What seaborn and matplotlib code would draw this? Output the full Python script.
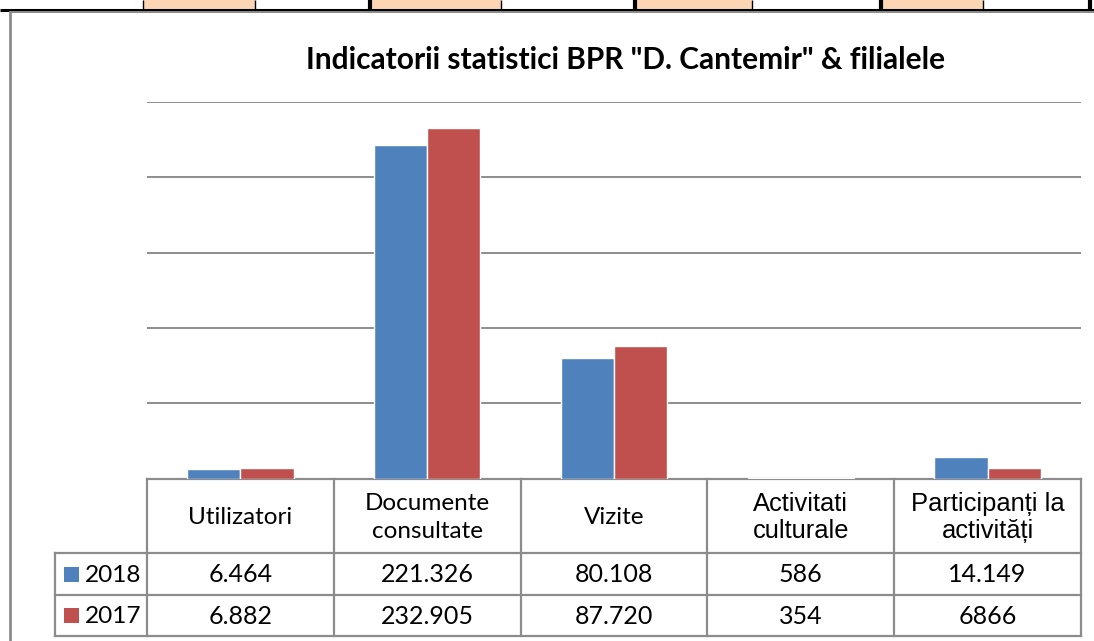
import seaborn as sns
import matplotlib.pyplot as plt
import pandas as pd
from matplotlib.patches import Rectangle

categories = ["Utilizatori", "Documente\nconsultate", "Vizite", "Activitati\nculturale", "Participanți la\nactivități"]
years = ["2018", "2017"]
values_2018 = [6464, 221326, 80108, 586, 14149]
values_2017 = [6882, 232905, 87720, 354, 6866]
table_2018 = ["6.464", "221.326", "80.108", "586", "14.149"]
table_2017 = ["6.882", "232.905", "87.720", "354", "6866"]

BLUE = "#4F81BD"
RED = "#C0504D"
GRAY = "#8C8C8C"
W, H = 1094, 641

df = pd.DataFrame({
    "cat": categories * 2,
    "year": [years[0]] * 5 + [years[1]] * 5,
    "val": values_2018 + values_2017,
})

sns.set_theme(style="white")
plt.rcParams["font.family"] = ["Lato", "DejaVu Sans"]

fig = plt.figure(figsize=(W / 100, H / 100), dpi=100)
fig.patch.set_facecolor("white")

# overlay in pixel coords for the frame and the data table
ov = fig.add_axes([0, 0, 1, 1])
ov.set_xlim(0, W)
ov.set_ylim(H, 0)
ov.axis("off")

x0, x1 = 147, 1081
y_base, y_top = 478.5, 102
ax = fig.add_axes([x0 / W, (H - y_base) / H, (x1 - x0) / W, (y_base - y_top) / H])
ax.set_facecolor("none")

sns.barplot(data=df, x="cat", y="val", hue="year", hue_order=years,
            palette=[BLUE, RED], saturation=1, width=0.57, ax=ax, legend=False)
ax.set_xlim(-0.5, 4.5)
ax.set_ylim(0, 250000)
ax.set_yticks(range(0, 250001, 50000))
ax.yaxis.grid(True, color=GRAY, lw=1.4)
ax.set_axisbelow(True)
for s in ax.spines.values():
    s.set_visible(False)
ax.tick_params(left=False, bottom=False, labelleft=False, labelbottom=False)
ax.set_xlabel("")
ax.set_ylabel("")

# document strip at top
strip_cells = [(143, 255), (370, 501), (635, 752), (881, 983)]
for a, b in strip_cells:
    ov.add_patch(Rectangle((a, 0), b - a, 9.5, color="#FCD5B4", lw=0))
for xv, lw in [(143, 1), (255, 1), (370, 3), (501, 1), (635, 3), (752, 1), (881, 3), (983, 1), (1090, 3)]:
    ov.plot([xv, xv], [0, 10], color="black", lw=lw, solid_capstyle="butt")
ov.plot([0, W], [10, 10], color="black", lw=2.2, solid_capstyle="butt")
ov.plot([10, W], [11.8, 11.8], color=GRAY, lw=1.4)
ov.plot([10, 10], [11.8, H], color=GRAY, lw=2)

# title
ov.text(626, 60, 'Indicatorii statistici BPR "D. Cantemir" & filialele',
        ha="center", va="center", fontsize=21.5, fontweight="bold", color="black")

# data table
cw = (x1 - x0) / len(categories)
edges = [x0 + i * cw for i in range(len(categories) + 1)]
r0, r1, r2, r3 = 479, 553, 595, 636
lx = 55
tc = dict(color=GRAY, lw=1.6, solid_capstyle="projecting")
ov.plot([x0, x1], [r0, r0], **tc)
ov.plot([lx, x1], [r1, r1], **tc)
ov.plot([lx, x1], [r2, r2], **tc)
ov.plot([lx, x1], [r3, r3], **tc)
ov.plot([lx, lx], [r1, r3], **tc)
for e in edges:
    ov.plot([e, e], [r0, r3], **tc)

for i, cat in enumerate(categories):
    cx = (edges[i] + edges[i + 1]) / 2
    if i >= 3:
        fam = ["Liberation Sans", "DejaVu Sans"]
        fs, ls = 18.4, 1.15
    else:
        fam = ["Lato", "DejaVu Sans"]
        fs, ls = 17.5, 1.42
    ov.text(cx, (r0 + r1) / 2 + 1.5, cat, ha="center", va="center", fontsize=fs,
            family=fam, linespacing=ls, color="black")
    ov.text(cx, (r1 + r2) / 2 + 1, table_2018[i], ha="center", va="center", fontsize=18, color="black")
    ov.text(cx, (r2 + r3) / 2 + 1, table_2017[i], ha="center", va="center", fontsize=18, color="black")

for (ya, yb), year, col in [((r1, r2), years[0], BLUE), ((r2, r3), years[1], RED)]:
    cy = (ya + yb) / 2
    ov.add_patch(Rectangle((64, cy - 7.5), 15, 15, color=col, lw=0))
    ov.text(85, cy + 1, year, ha="left", va="center", fontsize=17.6, color="black")

fig.savefig("out.png", dpi=100)
